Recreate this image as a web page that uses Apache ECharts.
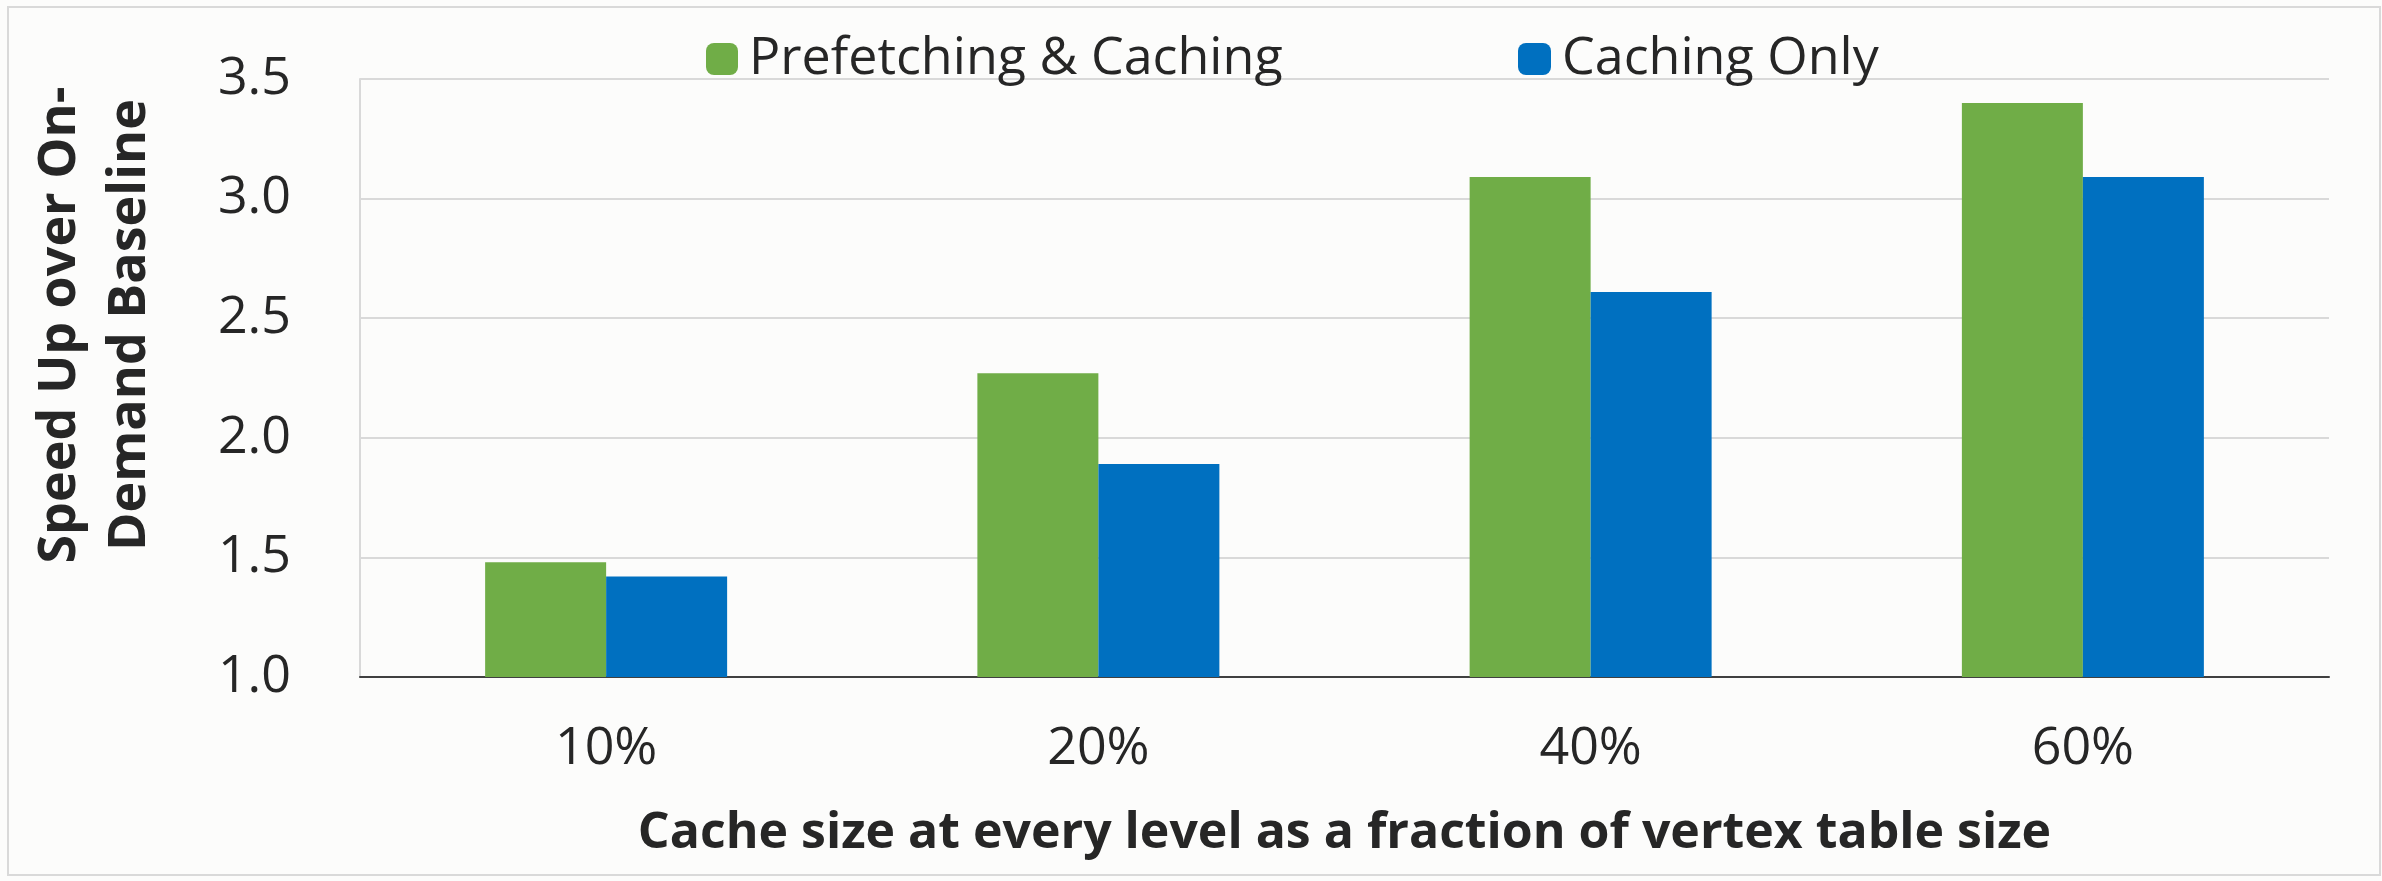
<!DOCTYPE html>
<html><head><meta charset="utf-8">
<style>html,body{margin:0;padding:0;background:#fcfcfb;}#c{width:2382px;height:881px;}</style>
<script src="https://cdn.jsdelivr.net/npm/echarts@6/dist/echarts.min.js"></script>
</head><body><div id="c"></div>
<script>
const categories = ['10%', '20%', '40%', '60%'];
const prefetchCaching = [1.48, 2.27, 3.09, 3.40];
const cachingOnly = [1.42, 1.89, 2.61, 3.09];
const yTicks = [1.0, 1.5, 2.0, 2.5, 3.0, 3.5];
const seriesNames = ['Prefetching & Caching', 'Caching Only'];

const font = '"Open Sans", "Noto Sans", sans-serif';
const chart = echarts.init(document.getElementById('c'));
chart.setOption({
  backgroundColor: '#fcfcfb',
  animation: false,
  graphic: [
    { type: 'rect', shape: { x: 8, y: 7, width: 2372, height: 868 }, style: { fill: 'none', stroke: '#d9d9d9', lineWidth: 2 }, silent: true },
    { type: 'text', x: 95, y: 325, rotation: Math.PI / 2,
      style: { text: 'Speed Up over On-\nDemand Baseline', align: 'center', verticalAlign: 'middle',
        fontFamily: font, fontWeight: 'bold', fontSize: 52, lineHeight: 70, fill: '#262626' } }
  ],
  legend: [
    { data: [seriesNames[0]], left: 701, top: 28, itemWidth: 32, itemHeight: 32, itemGap: 0,
      textStyle: { fontFamily: font, fontSize: 52, color: '#262626', padding: [0, 0, 0, 6] } },
    { data: [seriesNames[1]], left: 1513, top: 28, itemWidth: 33, itemHeight: 32, itemGap: 0,
      textStyle: { fontFamily: font, fontSize: 52, color: '#262626', padding: [0, 0, 0, 6] } }
  ],
  grid: { left: 360, right: 53, top: 79, bottom: 204 },
  xAxis: {
    type: 'category', data: categories,
    axisLine: { lineStyle: { color: '#404040', width: 2 } },
    axisTick: { show: false },
    axisLabel: { fontFamily: font, fontSize: 52, color: '#262626', margin: 46 },
    name: 'Cache size at every level as a fraction of vertex table size',
    nameLocation: 'middle', nameGap: 132,
    nameTextStyle: { fontFamily: font, fontWeight: 'bold', fontSize: 50, color: '#262626' }
  },
  yAxis: {
    type: 'value', min: 1.0, max: 3.5, interval: 0.5,
    axisLine: { show: true, lineStyle: { color: '#d9d9d9', width: 2 } },
    axisTick: { show: false },
    splitLine: { lineStyle: { color: '#d9d9d9', width: 2 } },
    axisLabel: { fontFamily: font, fontSize: 52, color: '#262626', margin: 69,
      formatter: v => { const t = yTicks.find(x => Math.abs(x - v) < 1e-9); return (t !== undefined ? t : v).toFixed(1); } }
  },
  series: [
    { name: seriesNames[0], type: 'bar', data: prefetchCaching, barWidth: 121, barGap: '0%',
      itemStyle: { color: '#70ad47' } },
    { name: seriesNames[1], type: 'bar', data: cachingOnly, barWidth: 121, barGap: '0%',
      itemStyle: { color: '#0070c0' } }
  ]
});
</script></body></html>
